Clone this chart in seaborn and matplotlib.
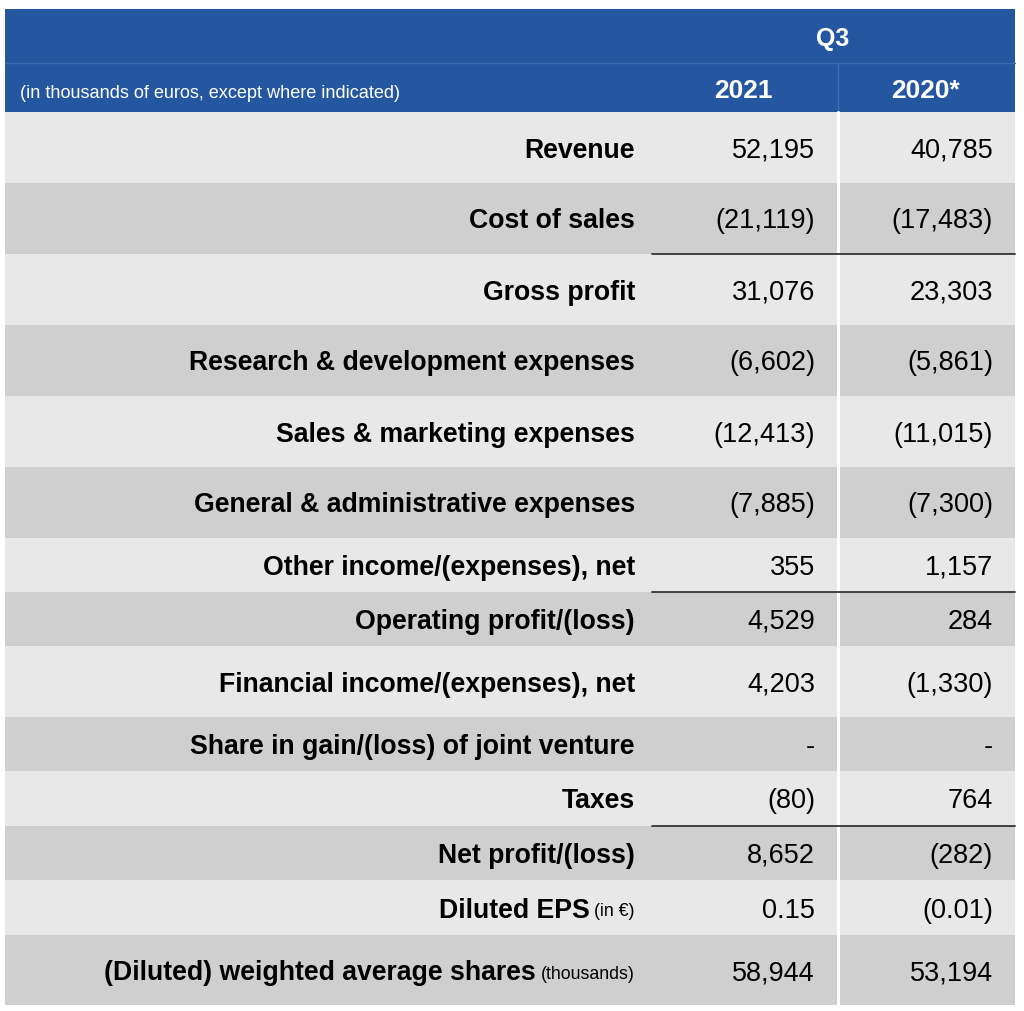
"""
Q3 income statement table (2021 vs 2020*), drawn as bands + text on a pixel grid.
"""
import matplotlib
matplotlib.use("Agg")
import matplotlib.pyplot as plt
import seaborn as sns
import numpy as np

# ---------------------------------------------------------------------------
# Data
# ---------------------------------------------------------------------------
row_labels = [
    "Revenue",
    "Cost of sales",
    "Gross profit",
    "Research & development expenses",
    "Sales & marketing expenses",
    "General & administrative expenses",
    "Other income/(expenses), net",
    "Operating profit/(loss)",
    "Financial income/(expenses), net",
    "Share in gain/(loss) of joint venture",
    "Taxes",
    "Net profit/(loss)",
    "Diluted EPS",
    "(Diluted) weighted average shares",
]
row_notes = ["", "", "", "", "", "", "", "", "", "", "", "", "(in €)", "(thousands)"]
values_2021 = ["52,195", "(21,119)", "31,076", "(6,602)", "(12,413)", "(7,885)", "355",
               "4,529", "4,203", "-", "(80)", "8,652", "0.15", "58,944"]
values_2020 = ["40,785", "(17,483)", "23,303", "(5,861)", "(11,015)", "(7,300)", "1,157",
               "284", "(1,330)", "-", "764", "(282)", "(0.01)", "53,194"]
period = "Q3"
years = ["2021", "2020*"]
unit_note = "(in thousands of euros, except where indicated)"
subtotal_after = ["Cost of sales", "Other income/(expenses), net", "Taxes"]

# ---------------------------------------------------------------------------
# Layout (pixels)
# ---------------------------------------------------------------------------
W, H = 1024, 1011
X0, X1 = 5, 1015            # table edges
XC1, XC2 = 652, 838          # year column edges
LABEL_R, V1_R, V2_R = 635, 815, 993
HDR_TOP, HDR_MID, HDR_BOT = 9, 63, 112
row_h = [71, 71, 71, 71, 71, 71, 54, 54, 71, 54, 55, 54, 55, 70]
BASE_OFF = 10                # baseline below row centre

BLUE = "#2557a1"
LIGHT, DARK = "#e8e8e8", "#cfcfcf"
FONT = ["Liberation Sans", "DejaVu Sans"]

sns.set_theme(style="white")
plt.rcParams["font.family"] = FONT

fig = plt.figure(figsize=(W / 100, H / 100), dpi=100)
ax = fig.add_axes([0, 0, 1, 1])
ax.set_xlim(0, W)
ax.set_ylim(H, 0)
ax.axis("off")

# header
ax.barh([(HDR_TOP + HDR_BOT) / 2], [X1 - X0], left=X0, height=HDR_BOT - HDR_TOP,
        color=BLUE, linewidth=0)
ax.plot([X0, X1], [HDR_MID, HDR_MID], color="#3f6bb0", lw=1)
ax.plot([XC2, XC2], [HDR_MID, HDR_BOT], color="#3f6bb0", lw=1)
top_c = (HDR_TOP + HDR_MID) / 2 + BASE_OFF
sub_c = (HDR_MID + HDR_BOT) / 2 + BASE_OFF
ax.text(833, top_c, period, color="white",
        fontsize=18, fontweight="bold", ha="center", va="baseline")
ax.text(743, sub_c, years[0], color="white",
        fontsize=19, fontweight="bold", ha="center", va="baseline")
ax.text(926, sub_c, years[1], color="white",
        fontsize=19, fontweight="bold", ha="center", va="baseline")
ax.text(20, sub_c, unit_note, color="white",
        fontsize=13.1, ha="left", va="baseline")

# body rows
edges = HDR_BOT + np.concatenate([[0], np.cumsum(row_h)])
centers = (edges[:-1] + edges[1:]) / 2
colors = [LIGHT if i % 2 == 0 else DARK for i in range(len(row_labels))]
ax.barh(centers, [X1 - X0] * len(row_labels), left=X0, height=row_h,
        color=colors, linewidth=0)
ax.plot([XC2, XC2], [HDR_BOT, edges[-1]], color="white", lw=2.2)

fig.canvas.draw()
renderer = fig.canvas.get_renderer()
inv = ax.transData.inverted()

for i, label in enumerate(row_labels):
    y = centers[i] + BASE_OFF
    right = LABEL_R
    if row_notes[i]:
        t = ax.text(right, y - 1, row_notes[i], fontsize=12.8, ha="right", va="baseline",
                    color="black")
        bb = t.get_window_extent(renderer)
        x_left = inv.transform((bb.x0, bb.y0))[0]
        right = x_left - 5
    ax.text(right, y, label, fontsize=19.2, fontweight="bold", ha="right", va="baseline",
            color="black")
    ax.text(V1_R, y, values_2021[i], fontsize=19.5, ha="right", va="baseline", color="black")
    ax.text(V2_R, y, values_2020[i], fontsize=19.5, ha="right", va="baseline", color="black")
    if label in subtotal_after:
        ax.plot([XC1, X1], [edges[i + 1], edges[i + 1]], color="#333333", lw=1.3)

fig.savefig("out.png", dpi=100, facecolor="white")
